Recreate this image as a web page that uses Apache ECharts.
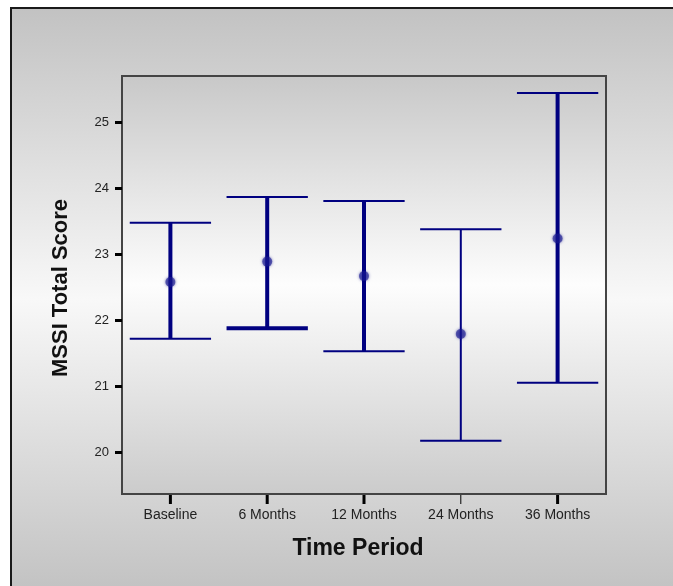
<!DOCTYPE html>
<html><head><meta charset="utf-8">
<script src="https://cdn.jsdelivr.net/npm/echarts@6/dist/echarts.min.js"></script>
<style>html,body{margin:0;padding:0;background:#fff}#c{width:673px;height:586px}</style>
</head><body><div id="c"></div>
<script>
// ---- data ----
const categories = ['Baseline', '6 Months', '12 Months', '24 Months', '36 Months'];
const means = [22.58, 22.89, 22.67, 21.79, 23.24];
const upper = [23.48, 23.87, 23.81, 23.38, 25.45];
const lower = [21.72, 21.88, 21.53, 20.17, 21.05];
const yTicks = [20, 21, 22, 23, 24, 25];
const yMin = 19.363, yMax = 25.707;

// ---- styles (per category) ----
const stemWidths = [4, 4, 4, 2, 4];
const topCapWidths = [2, 2, 2, 2, 2];
const bottomCapWidths = [2, 4, 2, 2, 2];
const tickWidths = [3, 3, 3, 1, 3];

const NAVY = '#000080';
const FONT = 'Liberation Sans, Arial, sans-serif';

const chart = echarts.init(document.getElementById('c'), null, {renderer: 'canvas'});

const barData = categories.map((c, i) => [i, lower[i], upper[i]]);
const meanData = categories.map((c, i) => [i, means[i]]);

chart.setOption({
  animation: false,
  graphic: [{
    type: 'rect', z: -100, silent: true,
    shape: {x: 11, y: 8, width: 700, height: 620},
    style: {
      fill: new echarts.graphic.LinearGradient(0, 0, 0, 1, [
        {offset: 0, color: '#c2c2c2'},
        {offset: 0.47, color: '#f8f8f8'},
        {offset: 0.94, color: '#c2c2c2'},
        {offset: 1, color: '#c0c0c0'}
      ]),
      stroke: '#1a1a1a', lineWidth: 2
    }
  }],
  grid: {
    left: 122, right: 67, top: 76, bottom: 92,
    show: true, borderColor: '#444', borderWidth: 2,
    backgroundColor: new echarts.graphic.LinearGradient(0, 0, 0, 1, [
      {offset: 0, color: '#c8c8c8'},
      {offset: 0.5, color: '#fdfdfd'},
      {offset: 1, color: '#cbcbcb'}
    ])
  },
  xAxis: {
    type: 'category', data: categories, boundaryGap: true,
    axisLine: {show: false},
    axisTick: {show: false},
    axisLabel: {color: '#222', fontFamily: FONT, fontSize: 14, margin: 14},
    splitLine: {show: false},
    name: 'Time Period', nameLocation: 'middle', nameGap: 43,
    nameTextStyle: {color: '#111', fontFamily: FONT, fontSize: 23, fontWeight: 'bold', padding: [0, 12, 0, 0]}
  },
  yAxis: {
    type: 'value', min: yMin, max: yMax,
    axisLine: {show: false},
    axisTick: {show: true, inside: false, length: 7, lineStyle: {color: '#000', width: 3}, customValues: yTicks},
    axisLabel: {color: '#222', fontFamily: FONT, fontSize: 13, margin: 13, customValues: yTicks},
    splitLine: {show: false},
    name: 'MSSI Total Score', nameLocation: 'middle', nameGap: 50,
    nameTextStyle: {color: '#111', fontFamily: FONT, fontSize: 22, fontWeight: 'bold', padding: [0, 6, 0, 0]}
  },
  series: [{
    type: 'custom',
    clip: false,
    data: barData,
    encode: {x: 0, y: [1, 2]},
    renderItem: function (params, api) {
      const i = api.value(0);
      const lo = api.coord([i, api.value(1)]);
      const hi = api.coord([i, api.value(2)]);
      const base = api.coord([i, yMin]);
      const half = api.size([1, 0])[0] * 0.42;
      const idx = params.dataIndex;
      return {
        type: 'group',
        children: [
          {type: 'line', shape: {x1: hi[0], y1: hi[1], x2: lo[0], y2: lo[1]},
           style: {stroke: NAVY, lineWidth: stemWidths[idx]}},
          {type: 'line', shape: {x1: hi[0] - half, y1: hi[1], x2: hi[0] + half, y2: hi[1]},
           style: {stroke: NAVY, lineWidth: topCapWidths[idx]}},
          {type: 'line', shape: {x1: lo[0] - half, y1: lo[1], x2: lo[0] + half, y2: lo[1]},
           style: {stroke: NAVY, lineWidth: bottomCapWidths[idx]}},
          {type: 'line', shape: {x1: base[0], y1: base[1] + 1, x2: base[0], y2: base[1] + 10},
           style: {stroke: '#000', lineWidth: tickWidths[idx]}}
        ]
      };
    }
  }, {
    type: 'scatter',
    data: meanData,
    symbol: 'circle', symbolSize: 10, z: 5,
    itemStyle: {color: 'rgba(25,25,145,0.78)', shadowBlur: 3, shadowColor: 'rgba(0,0,128,0.8)'}
  }]
});
</script>
</body></html>
